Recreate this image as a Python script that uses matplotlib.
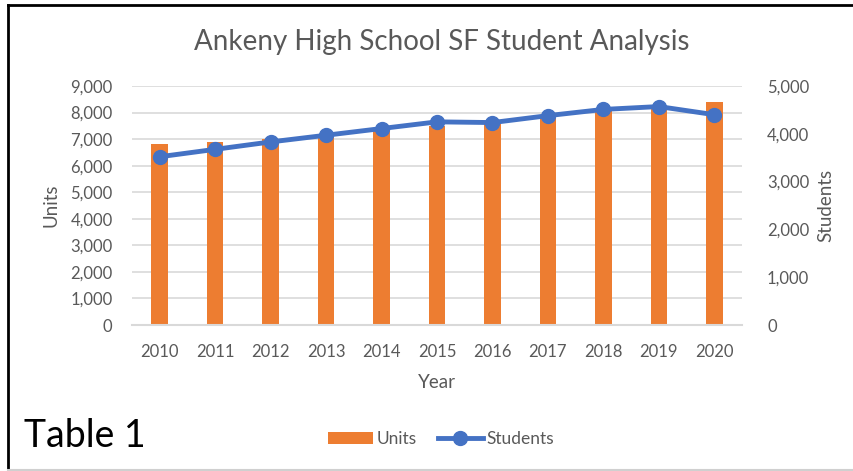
import matplotlib
matplotlib.use("Agg")
import matplotlib.pyplot as plt
from matplotlib.lines import Line2D
from matplotlib.patches import Patch

years = ["2010", "2011", "2012", "2013", "2014", "2015", "2016", "2017", "2018", "2019", "2020"]
units = [6800, 6880, 7000, 7100, 7350, 7480, 7620, 7840, 8070, 8160, 8390]
students = [3520, 3675, 3830, 3970, 4110, 4250, 4235, 4380, 4510, 4570, 4400]
left_ticks = [0, 1000, 2000, 3000, 4000, 5000, 6000, 7000, 8000, 9000]
right_ticks = [0, 1000, 2000, 3000, 4000, 5000]

plt.rcParams['font.family'] = ['Lato', 'DejaVu Sans']
W, H = 854, 471
fig = plt.figure(figsize=(W / 100, H / 100), dpi=100)

orange = "#ED7D31"
blue = "#4472C4"
grid = "#D9D9D9"
tc = "#595959"

ax = fig.add_axes([132 / W, 1 - 325 / H, (742 - 132) / W, (325 - 86) / H])
x = list(range(len(years)))
ax.bar(x, units, width=0.3, color=orange, zorder=2)
ax.set_xlim(-0.5, len(years) - 0.5)
ax.set_ylim(0, 9000)
ax.set_yticks(left_ticks)
ax.set_yticklabels([f"{v:,}" for v in left_ticks])
ax.set_xticks(x)
ax.set_xticklabels(years)
ax.yaxis.grid(True, color=grid, linewidth=1.2, zorder=0)
ax.set_axisbelow(True)
for s in ["top", "right", "left"]:
    ax.spines[s].set_visible(False)
ax.spines["bottom"].set_color(grid)
ax.spines["bottom"].set_linewidth(1.5)
ax.tick_params(axis="both", length=0, labelsize=12, labelcolor=tc)
ax.tick_params(axis="y", pad=14)
ax.tick_params(axis="x", pad=14)
ax.set_xlabel("Year", fontsize=13.5, color=tc)
ax.set_ylabel("Units", fontsize=13.5, color=tc)
ax.xaxis.set_label_coords(0.5, (325 - 374) / 239)
ax.yaxis.set_label_coords((59 - 132) / 610, 0.5)

ax2 = ax.twinx()
ax2.plot(x, students, color=blue, linewidth=3.5, marker="o", markersize=10, zorder=3)
ax2.set_ylim(0, 5000)
ax2.set_yticks(right_ticks)
ax2.set_yticklabels([f"{v:,}" for v in right_ticks])
for s in ["top", "right", "left", "bottom"]:
    ax2.spines[s].set_visible(False)
ax2.tick_params(axis="y", length=0, labelsize=12, labelcolor=tc, pad=18)
ax2.set_ylabel("Students", fontsize=13.5, color=tc)
ax2.yaxis.set_label_coords((817 - 132) / 610, 0.5)

fig.text(442 / W, 1 - 42 / H, "Ankeny High School SF Student Analysis",
         ha="center", va="center", fontsize=20, color=tc)
fig.text(24 / W, 1 - 436 / H, "Table 1", ha="left", va="center", fontsize=27, color="black")

handles = [Patch(facecolor=orange, edgecolor="none"),
           Line2D([0], [0], color=blue, linewidth=3.5, marker="o", markersize=10)]
fig.legend(handles, ["Units", "Students"], loc="center", bbox_to_anchor=(441 / W, 1 - 439 / H),
           ncol=2, frameon=False, fontsize=12.5, labelcolor=tc, handlelength=2.6,
           handletextpad=0.2, columnspacing=1.2)

# border
fig.add_artist(Line2D([8 / W, 1], [1 - 5 / H, 1 - 5 / H], color="black", linewidth=2, transform=fig.transFigure))
fig.add_artist(Line2D([8 / W, 8 / W], [1 - 5 / H, 1 - 469.5 / H], color="black", linewidth=2, transform=fig.transFigure))
fig.add_artist(Line2D([8 / W, 1], [1 - 469.5 / H, 1 - 469.5 / H], color="#D0D0D0", linewidth=1.5, transform=fig.transFigure))

fig.savefig("out.png", dpi=100)
